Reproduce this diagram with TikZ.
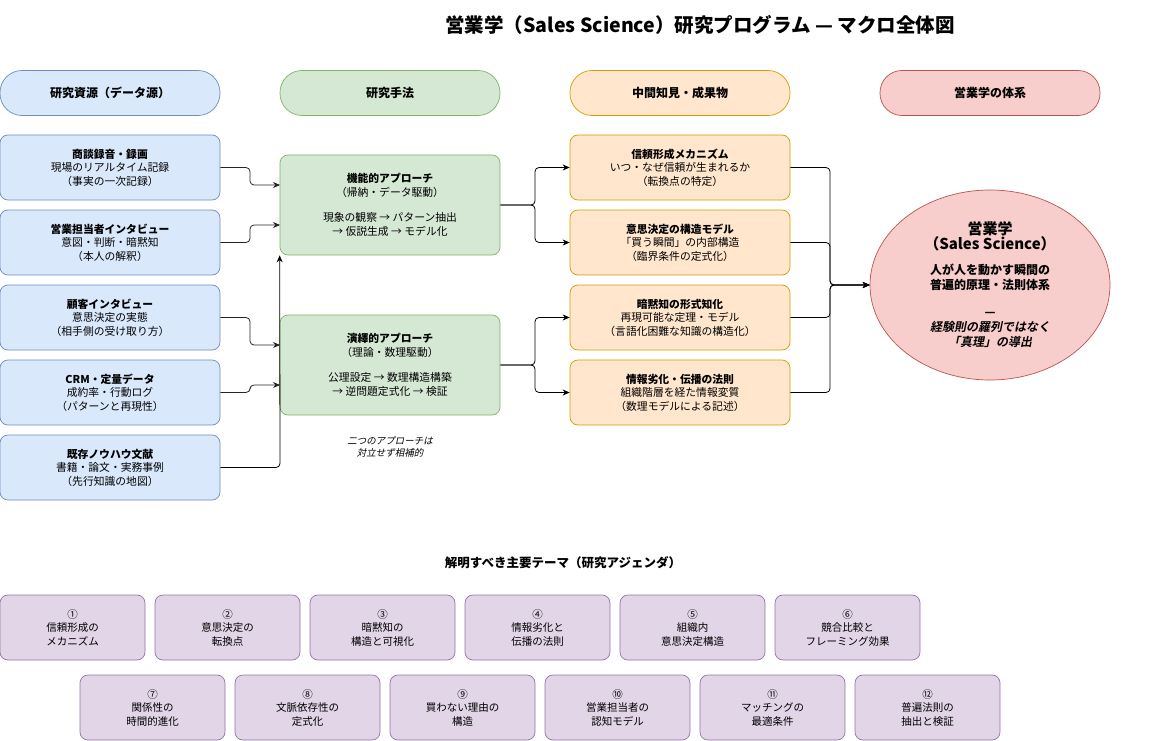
\documentclass[tikz,border=0pt]{standalone}
\usepackage{fontspec}
\setmainfont[ItalicFont={Noto Sans CJK JP},ItalicFeatures={FakeSlant=0.2},BoldItalicFont={Noto Sans CJK JP Bold},BoldItalicFeatures={FakeSlant=0.2}]{Noto Sans CJK JP}
\usetikzlibrary{arrows.meta,shapes.geometric}
\definecolor{bF}{HTML}{DAE8FC}\definecolor{bD}{HTML}{6C8EBF}
\definecolor{gF}{HTML}{D5E8D4}\definecolor{gD}{HTML}{82B366}
\definecolor{oF}{HTML}{FFE6CC}\definecolor{oD}{HTML}{D79B00}
\definecolor{rF}{HTML}{F8CECC}\definecolor{rD}{HTML}{B85450}
\definecolor{pF}{HTML}{E1D5E7}\definecolor{pD}{HTML}{9673A6}
\begin{document}
\begin{tikzpicture}[x=1pt,y=-1pt,
 base/.style={draw,rounded corners=8pt,minimum width=220pt,minimum height=65pt,inner sep=1pt,align=center,font=\fontsize{10.8}{13.5}\selectfont,line width=0.7pt},
 src/.style={base,fill=bF,draw=bD},
 meth/.style={base,fill=gF,draw=gD,minimum height=100pt},
 res/.style={base,fill=oF,draw=oD},
 hdr/.style={draw,rounded corners=22pt,minimum width=220pt,minimum height=45pt,font=\bfseries\fontsize{12}{14}\selectfont,line width=0.7pt},
 th/.style={draw=pD,fill=pF,rounded corners=8pt,minimum width=145pt,minimum height=65pt,align=center,font=\fontsize{10.5}{13.5}\selectfont,line width=0.7pt},
 arr/.style={-{Stealth[length=7pt,width=6pt]},line width=0.8pt,rounded corners=4pt}]
\useasboundingbox (0,0) rectangle (1151,741);
\node[font=\bfseries\fontsize{19.5}{22}\selectfont] (title) at (700,25) {営業学（Sales Science）研究プログラム — マクロ全体図};
\node[hdr,fill=bF,draw=bD] (h1) at (110,93) {研究資源（データ源）};
\node[hdr,fill=gF,draw=gD] (h2) at (390,93) {研究手法};
\node[hdr,fill=oF,draw=oD] (h3) at (680,93) {中間知見・成果物};
\node[hdr,fill=rF,draw=rD] (h4) at (990,93) {営業学の体系};

\node[src] (s1) at (110,167.5) {\textbf{商談録音・録画}\\現場のリアルタイム記録\\（事実の一次記録）};
\node[src] (s2) at (110,242.5) {\textbf{営業担当者インタビュー}\\意図・判断・暗黙知\\（本人の解釈）};
\node[src] (s3) at (110,317.5) {\textbf{顧客インタビュー}\\意思決定の実態\\（相手側の受け取り方）};
\node[src] (s4) at (110,392.5) {\textbf{CRM・定量データ}\\成約率・行動ログ\\（パターンと再現性）};
\node[src] (s5) at (110,467.5) {\textbf{既存ノウハウ文献}\\書籍・論文・実務事例\\（先行知識の地図）};

\node[meth] (m1) at (390,205) {\textbf{機能的アプローチ}\\（帰納・データ駆動）\\[12pt]現象の観察 → パターン抽出\\→ 仮説生成 → モデル化};
\node[meth] (m2) at (390,365) {\textbf{演繹的アプローチ}\\（理論・数理駆動）\\[12pt]公理設定 → 数理構造構築\\→ 逆問題定式化 → 検証};
\node[align=center,font=\itshape\fontsize{9.5}{12}\selectfont] (note) at (390,447) {二つのアプローチは\\対立せず相補的};

\node[res] (r1) at (680,167.5) {\textbf{信頼形成メカニズム}\\いつ・なぜ信頼が生まれるか\\（転換点の特定）};
\node[res] (r2) at (680,242.5) {\textbf{意思決定の構造モデル}\\「買う瞬間」の内部構造\\（臨界条件の定式化）};
\node[res] (r3) at (680,317.5) {\textbf{暗黙知の形式知化}\\再現可能な定理・モデル\\（言語化困難な知識の構造化）};
\node[res] (r4) at (680,392.5) {\textbf{情報劣化・伝播の法則}\\組織階層を経た情報変質\\（数理モデルによる記述）};

\node[draw=rD,fill=rF,ellipse,inner sep=0pt,minimum width=240pt,minimum height=190pt,line width=0.7pt,align=center,font=\bfseries\fontsize{12}{15}\selectfont] (core) at (990,285)
 {{\fontsize{15}{17}\selectfont 営業学}\\{\fontsize{15}{17}\selectfont（Sales Science）}\\[10pt]人が人を動かす瞬間の\\普遍的原理・法則体系\\[12pt]—\\\textit{経験則の羅列ではなく}\\\textit{「真理」の導出}};

\coordinate (m1a) at (280,185); \coordinate (m1b) at (280,225);
\coordinate (m2a) at (280,345); \coordinate (m2b) at (280,385);
\draw[arr,gray!30!black] (s1.east) -- (250,167.5) -- (250,185) -- (m1a);
\draw[arr,gray!30!black] (s2.east) -- (250,242.5) -- (250,225) -- (m1b);
\draw[arr,gray!30!black] (s3.east) -- (250,317.5) -- (250,345) -- (m2a);
\draw[arr,gray!30!black] (s4.east) -- (250,392.5) -- (250,385) -- (m2b);
\draw[arr] (s5.east) -- (280,467.5) -- (m1.south west);

\draw[arr] (m1.east) -- (535,205) -- (535,167.5) -- (r1.west);
\draw[arr] (m1.east) -- (535,205) -- (535,242.5) -- (r2.west);
\draw[arr] (m2.east) -- (535,365) -- (535,317.5) -- (r3.west);
\draw[arr] (m2.east) -- (535,365) -- (535,392.5) -- (r4.west);

\draw[arr] (r1.east) -- (830,167.5) -- (830,285) -- (core.west);
\draw[arr] (r2.east) -- (830,242.5) -- (830,285) -- (core.west);
\draw[arr] (r3.east) -- (830,317.5) -- (830,285) -- (core.west);
\draw[arr] (r4.east) -- (830,392.5) -- (830,285) -- (core.west);

\node[font=\bfseries\fontsize{12.5}{14}\selectfont] (ttl2) at (563,563) {解明すべき主要テーマ（研究アジェンダ）};
\node[th] (t1) at (72.5,627.5) {①\\信頼形成の\\メカニズム};
\node[th] (t2) at (227.5,627.5) {②\\意思決定の\\転換点};
\node[th] (t3) at (382.5,627.5) {③\\暗黙知の\\構造と可視化};
\node[th] (t4) at (537.5,627.5) {④\\情報劣化と\\伝播の法則};
\node[th] (t5) at (692.5,627.5) {⑤\\組織内\\意思決定構造};
\node[th] (t6) at (847.5,627.5) {⑥\\競合比較と\\フレーミング効果};
\node[th] (t7) at (152.5,707.5) {⑦\\関係性の\\時間的進化};
\node[th] (t8) at (307.5,707.5) {⑧\\文脈依存性の\\定式化};
\node[th] (t9) at (462.5,707.5) {⑨\\買わない理由の\\構造};
\node[th] (t10) at (617.5,707.5) {⑩\\営業担当者の\\認知モデル};
\node[th] (t11) at (772.5,707.5) {⑪\\マッチングの\\最適条件};
\node[th] (t12) at (927.5,707.5) {⑫\\普遍法則の\\抽出と検証};
\end{tikzpicture}
\end{document}
